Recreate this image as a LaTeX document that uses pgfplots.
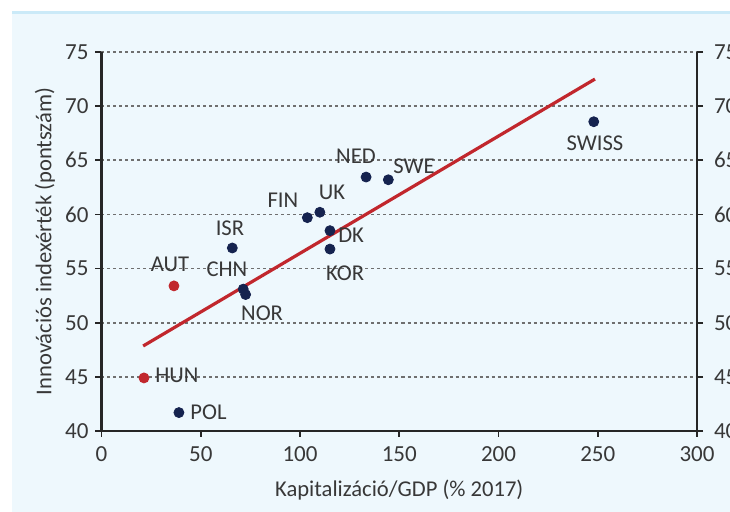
\documentclass[border=0pt]{standalone}
\usepackage{pgfplots}
\pgfplotsset{compat=1.18}
\usepackage{fontspec}
\setmainfont{Carlito}
\definecolor{navy}{HTML}{15234F}
\definecolor{dred}{HTML}{C1272D}
\definecolor{bgblue}{HTML}{EEF8FD}
\definecolor{topblue}{HTML}{CBEAF8}
\definecolor{txt}{HTML}{383838}
\definecolor{gridc}{HTML}{6F6F6F}
\begin{document}
\begin{tikzpicture}
\useasboundingbox (0,0) rectangle (365pt,256pt);
\clip (0,0) rectangle (365pt,256pt);
\fill[white] (0,0) rectangle (365pt,256pt);
\fill[bgblue] (6pt,0) rectangle (365pt,250pt);
\fill[topblue] (6pt,249pt) rectangle (365pt,250.5pt);
\pgfplotsset{
  common/.style={
    at={(50.75pt,40.5pt)}, anchor=south west,
    scale only axis, width=297.75pt, height=189.5pt,
    xmin=0, xmax=300, ymin=40, ymax=75,
    xtick={0,50,...,300}, ytick={40,45,...,75},
    tick align=outside, major tick length=3pt,
    tick style={black!85, line width=0.9pt},
    axis line style={black!85, line width=1.1pt},
    tick label style={font=\fontsize{11.5}{13}\selectfont, text=txt},
    /pgf/number format/assume math mode=true,
    /pgf/number format/1000 sep={},
  }
}
\begin{axis}[common,
  axis x line*=bottom, axis y line*=left,
  ymajorgrids, major grid style={gridc, dash pattern=on 1.5pt off 1.5pt, line width=0.8pt},
  xticklabel style={yshift=-1.5pt},
  xlabel={Kapitalizáció/GDP (\% 2017)},
  ylabel={Innovációs indexérték (pontszám)},
  label style={font=\fontsize{11.3}{13}\selectfont, text=txt},
  xlabel style={at={(axis description cs:0.5,-0.156)}, anchor=center},
  ylabel style={at={(axis description cs:-0.095,0.5)}, anchor=center},
  clip=false,
]
\addplot[dred, line width=1.6pt] coordinates {(21,47.85) (248.6,72.5)};
\addplot[only marks, mark=*, mark size=2.5pt, navy] coordinates {
 (248,68.56) (144.5,63.2) (133.3,63.45) (110,60.2) (103.7,59.7)
 (115.1,58.5) (115.1,56.8) (65.9,56.9) (71.4,53.1) (72.6,52.6) (39,41.7)
};
\addplot[only marks, mark=*, mark size=2.5pt, dred] coordinates {
 (36.5,53.4) (21.4,44.9)
};
\begin{scope}[every node/.style={font=\fontsize{11.3}{13}\selectfont, text=txt}]
\node at (axis cs:248.6,66.6) {SWISS};
\node[anchor=west, inner sep=0pt] at (axis cs:146.8,64.47) {SWE};
\node at (axis cs:128.2,65.4) {NED};
\node at (axis cs:116.1,62.0) {UK};
\node at (axis cs:91.4,61.33) {FIN};
\node[anchor=west, inner sep=0pt] at (axis cs:119.1,58.1) {DK};
\node at (axis cs:122.7,54.6) {KOR};
\node at (axis cs:64.7,58.74) {ISR};
\node at (axis cs:34.5,55.37) {AUT};
\node at (axis cs:63.2,54.96) {CHN};
\node at (axis cs:80.9,50.9) {NOR};
\node[anchor=west, inner sep=0pt] at (axis cs:26.95,45.17) {HUN};
\node[anchor=west, inner sep=0pt] at (axis cs:44.6,41.7) {POL};
\end{scope}
\end{axis}
\begin{axis}[common,
  axis x line=none, axis y line*=right,
  yticklabel pos=right,
  yticklabel style={xshift=2pt},
]
\end{axis}
\end{tikzpicture}
\end{document}
